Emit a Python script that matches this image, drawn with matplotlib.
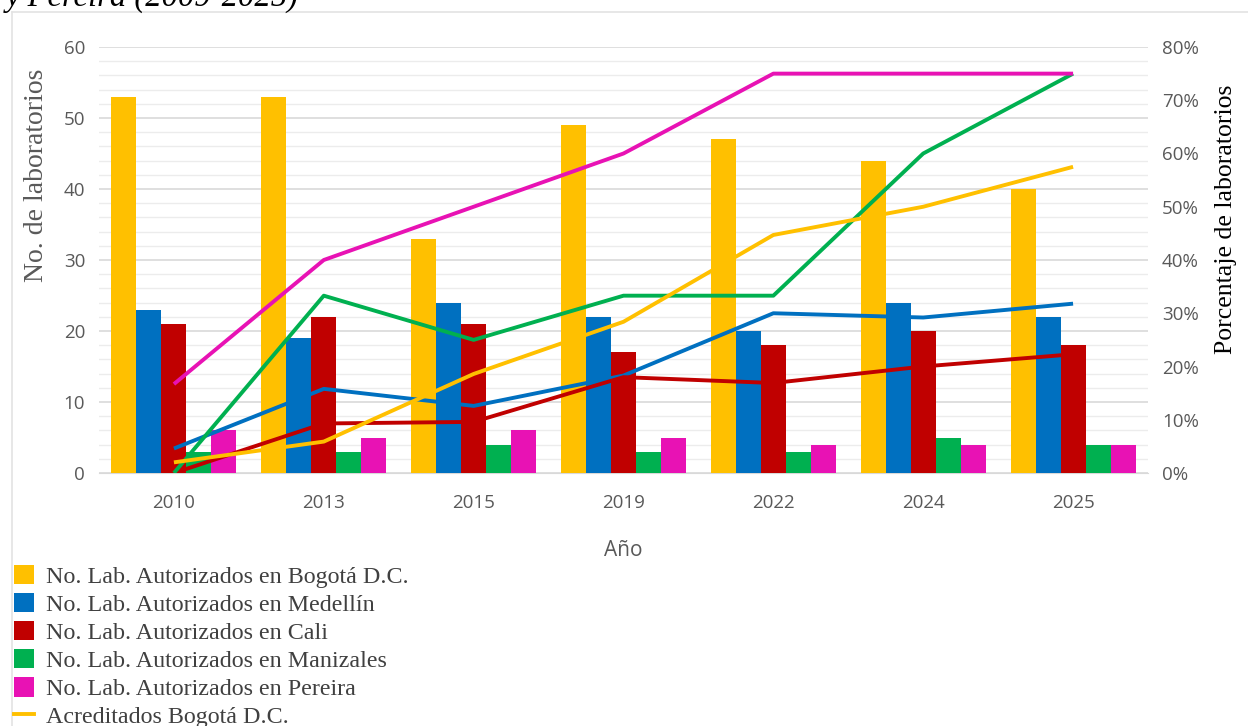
import matplotlib
matplotlib.use("Agg")
import matplotlib.pyplot as plt
import numpy as np
from matplotlib.patches import Patch
from matplotlib.lines import Line2D
from matplotlib.ticker import MultipleLocator, FuncFormatter

years = ["2010", "2013", "2015", "2019", "2022", "2024", "2025"]

bogota = [53, 53, 33, 49, 47, 44, 40]
medellin = [23, 19, 24, 22, 20, 24, 22]
cali = [21, 22, 21, 17, 18, 20, 18]
manizales = [3, 3, 4, 3, 3, 5, 4]
pereira = [6, 5, 6, 5, 4, 4, 4]

acred_bogota = [2.0, 5.9, 18.6, 28.4, 44.7, 50.0, 57.5]
acred_medellin = [4.6, 15.8, 12.6, 18.3, 30.0, 29.2, 31.8]
acred_cali = [0.0, 9.3, 9.6, 18.0, 16.9, 20.0, 22.3]
acred_manizales = [0.0, 33.3, 25.0, 33.3, 33.3, 60.0, 75.0]
acred_pereira = [16.7, 40.0, 50.0, 60.0, 75.0, 75.0, 75.0]

bar_labels = [
    "No. Lab. Autorizados en Bogotá D.C.",
    "No. Lab. Autorizados en Medellín",
    "No. Lab. Autorizados en Cali",
    "No. Lab. Autorizados en Manizales",
    "No. Lab. Autorizados en Pereira",
]
line_label = "Acreditados Bogotá D.C."

c_yel = "#FFC000"
c_blu = "#0070C0"
c_red = "#C00000"
c_grn = "#00B050"
c_pnk = "#E812B4"
colors = [c_yel, c_blu, c_red, c_grn, c_pnk]

fig = plt.figure(figsize=(12.48, 7.26), dpi=100)
ax = fig.add_axes([99 / 1248, 253 / 726, 1049 / 1248, 426 / 726])
ax2 = ax.twinx()

x = np.arange(len(years))
w = 1 / 6
series = [bogota, medellin, cali, manizales, pereira]
for i, (vals, col) in enumerate(zip(series, colors)):
    ax.bar(x + (i - 2) * w, vals, width=w, color=col, zorder=3, linewidth=0)

ax.set_xlim(-0.5, len(years) - 0.5)
ax.set_ylim(0, 60)
ax.yaxis.set_major_locator(MultipleLocator(10))
ax.yaxis.set_minor_locator(MultipleLocator(2))
ax.grid(axis="y", which="major", color="#D9D9D9", linewidth=1.2, zorder=0)
ax.grid(axis="y", which="minor", color="#ECECEC", linewidth=1.0, zorder=0)
ax.set_axisbelow(True)
ax.set_xticks(x)
ax.set_xticklabels(years)

for lab in ax.get_xticklabels() + ax.get_yticklabels():
    lab.set_fontfamily("Open Sans")
    lab.set_fontsize(13.5)
    lab.set_color("#595959")
ax.tick_params(axis="both", which="both", length=0)
ax.tick_params(axis="x", pad=15)
ax.tick_params(axis="y", pad=10)
for s in ["top", "right", "left"]:
    ax.spines[s].set_visible(False)
ax.spines["bottom"].set_color("#D9D9D9")

ax.set_ylabel("No. de laboratorios", family="Liberation Serif", fontsize=20,
              color="#595959")
ax.yaxis.set_label_coords(-50 / 1049, (473 - 175) / 426)
ax.set_xlabel("Año", family="Open Sans", fontsize=15, color="#595959", labelpad=20)

line_sets = [
    (acred_medellin, c_blu),
    (acred_cali, c_red),
    (acred_manizales, c_grn),
    (acred_pereira, c_pnk),
    (acred_bogota, c_yel),
]
for vals, col in line_sets:
    ax2.plot(x, vals, color=col, linewidth=2.8, zorder=4, solid_capstyle="butt")
ax2.set_ylim(0, 80)
ax2.yaxis.set_major_locator(MultipleLocator(10))
ax2.yaxis.set_major_formatter(FuncFormatter(lambda v, p: f"{v:.0f}%"))
for lab in ax2.get_yticklabels():
    lab.set_fontfamily("Open Sans")
    lab.set_fontsize(13.5)
    lab.set_color("#595959")
ax2.tick_params(axis="y", length=0, pad=10)
for s in ["top", "right", "left", "bottom"]:
    ax2.spines[s].set_visible(False)
ax2.set_ylabel("Porcentaje de laboratorios", family="Liberation Serif",
               fontsize=18.5, color="black")
ax2.yaxis.set_label_coords(1 + 67 / 1049, (473 - 219) / 426)

# chart border lines
fig.add_artist(Line2D([12 / 1248, 1], [1 - 12 / 726, 1 - 12 / 726],
                      transform=fig.transFigure, color="#E3E3E3", linewidth=1.2))
fig.add_artist(Line2D([12 / 1248, 12 / 1248], [0, 1 - 12 / 726],
                      transform=fig.transFigure, color="#E3E3E3", linewidth=1.2))

# partially visible caption (cut off at the top, as in the source)
fig.text(6 / 1248, 1 - 6 / 726, "y Pereira (2009-2025)", family="Liberation Serif",
         style="italic", fontsize=23.5, color="black", va="baseline", ha="left")

handles = [Patch(facecolor=c, edgecolor="none") for c in colors]
handles.append(Line2D([0], [0], color=c_yel, linewidth=2.8))
leg = fig.legend(handles, bar_labels + [line_label], loc="upper left",
                 bbox_to_anchor=(4 / 1248, 1 - 555 / 726), frameon=False,
                 prop={"family": "Liberation Serif", "size": 17.3},
                 labelcolor="#404040", handlelength=0.85, handleheight=0.85,
                 handletextpad=0.5, labelspacing=0.22, borderaxespad=0)

fig.savefig("out.png", dpi=100)
